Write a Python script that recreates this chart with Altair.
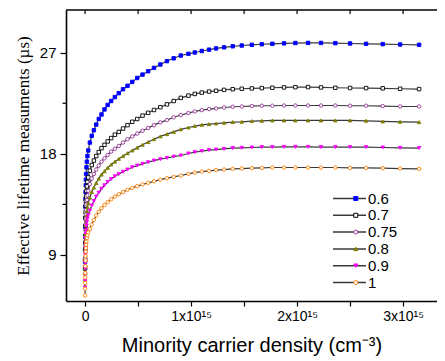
import altair as alt
import pandas as pd

# Minority carrier density (units of 1e15 cm^-3)
X = [0.0, 0.0005, 0.001, 0.0015, 0.002, 0.003, 0.004, 0.005, 0.0065, 0.008, 0.010, 0.013,
     0.017, 0.022, 0.030, 0.045, 0.063, 0.083, 0.105, 0.129, 0.155, 0.183, 0.213, 0.246,
     0.281, 0.318, 0.358, 0.400, 0.445, 0.492, 0.542, 0.595, 0.650, 0.710, 0.772, 0.836,
     0.903, 0.975, 1.035, 1.101, 1.170, 1.236, 1.311, 1.393, 1.478, 1.573, 1.667, 1.767,
     1.877, 1.984, 2.104, 2.226, 2.361, 2.500, 2.651, 2.808, 2.972, 3.151]

S_06 = [8.4, 9.5, 10.6, 11.5, 12.3, 13.3, 14.0, 14.6, 15.2, 15.7, 16.2, 16.8, 17.3, 17.8, 18.3,
        19.0, 19.6, 20.1, 20.6, 21.1, 21.5, 21.95, 22.35, 22.7, 23.05, 23.4, 23.75, 24.05, 24.4,
        24.75, 25.05, 25.35, 25.65, 25.95, 26.25, 26.5,
        26.75, 26.9, 27.02, 27.15, 27.27, 27.38, 27.48, 27.57, 27.64, 27.70, 27.75, 27.79, 27.83,
        27.86, 27.87,
        27.87, 27.85, 27.82, 27.79, 27.76, 27.73, 27.70]
S_07 = [7.8, 8.6, 9.4, 10.1, 10.7, 11.6, 12.3, 12.8, 13.4, 13.8, 14.2, 14.7, 15.1, 15.5, 15.9,
        16.5, 17.0, 17.4, 17.8, 18.15, 18.5, 18.8, 19.1, 19.4, 19.7, 19.95, 20.25, 20.55, 20.85,
        21.1, 21.4, 21.65, 21.9, 22.15, 22.4, 22.7,
        22.98, 23.18, 23.33, 23.45, 23.54, 23.61, 23.69, 23.75, 23.79, 23.82, 23.85, 23.88, 23.91,
        23.93, 23.94,
        23.91, 23.88, 23.86, 23.85, 23.83, 23.79, 23.76]
S_075 = [7.3, 8.0, 8.7, 9.3, 9.8, 10.6, 11.2, 11.7, 12.2, 12.6, 13.0, 13.5, 13.9, 14.3, 14.7,
         15.3, 15.8, 16.2, 16.6, 16.95, 17.3, 17.6, 17.9, 18.2, 18.45, 18.7, 19.0, 19.3, 19.55,
         19.8, 20.05, 20.3, 20.55, 20.8, 21.0, 21.25,
         21.45, 21.63, 21.77, 21.89, 21.98, 22.04, 22.12, 22.19, 22.21, 22.25, 22.28, 22.28, 22.30,
         22.30, 22.30,
         22.30, 22.30, 22.28, 22.28, 22.25, 22.21, 22.21]
S_08 = [6.8, 7.4, 8.0, 8.5, 9.0, 9.7, 10.3, 10.8, 11.3, 11.7, 12.1, 12.5, 12.9, 13.25, 13.6,
        14.1, 14.6, 15.0, 15.4, 15.8, 16.15, 16.45, 16.75, 17.05, 17.3, 17.55, 17.8, 18.05, 18.3,
        18.55, 18.8, 19.05, 19.3, 19.55, 19.75, 19.95,
        20.18, 20.34, 20.47, 20.58, 20.64, 20.70, 20.76, 20.82, 20.85, 20.91, 20.94, 20.97, 20.97,
        20.97, 20.97,
        20.97, 20.97, 20.97, 20.94, 20.88, 20.85, 20.82]
S_09 = [6.1, 6.7, 7.3, 7.8, 8.3, 9.0, 9.6, 10.0, 10.5, 10.9, 11.2, 11.6, 11.95, 12.25, 12.55,
        12.95, 13.4, 13.8, 14.2, 14.55, 14.9, 15.2, 15.5, 15.75, 16.0, 16.2, 16.4, 16.6, 16.8,
        16.95, 17.1, 17.25, 17.4, 17.52, 17.63, 17.75,
        17.85, 18.03, 18.15, 18.24, 18.33, 18.38, 18.44, 18.51, 18.53, 18.56, 18.60, 18.60, 18.62,
        18.62, 18.62,
        18.60, 18.60, 18.60, 18.60, 18.56, 18.53, 18.51]
S_1 = [5.4, 6.0, 6.5, 7.0, 7.4, 8.0, 8.5, 8.9, 9.3, 9.6, 9.9, 10.2, 10.5, 10.75, 11.0,
       11.3, 11.7, 12.1, 12.5, 12.85, 13.15, 13.45, 13.7, 13.95, 14.2, 14.4, 14.6, 14.8, 14.97,
       15.12, 15.27, 15.42, 15.55, 15.7, 15.83, 15.95,
       16.07, 16.22, 16.33, 16.42, 16.48, 16.55, 16.60, 16.66, 16.69, 16.72, 16.75, 16.78, 16.78,
       16.78, 16.78,
       16.78, 16.78, 16.75, 16.75, 16.72, 16.69, 16.66]

LABELS = ["0.6", "0.7", "0.75", "0.8", "0.9", "1"]
SERIES = [S_06, S_07, S_075, S_08, S_09, S_1]
STROKES = ["#0000FF", "#000000", "#993399", "#808000", "#FF00FF", "#FF8000"]
FILLS = ["#0000FF", "#FFFFFF", "#FFFFFF", "#808000", "#FF00FF", "#FFFFFF"]
SHAPES = ["square", "square", "circle", "triangle-up", "triangle-down", "circle"]
X_TICKS = [0, 0.5, 1, 1.5, 2, 2.5, 3]
X_RANGE = [-0.18, 3.32]
Y_MAJOR = [9, 18, 27]
Y_MINOR = [13.5, 22.5]

rows = []
for lab, ys in zip(LABELS, SERIES):
    for xv, yv in zip(X, ys):
        rows.append({"x": xv, "y": yv, "series": lab, "curve": lab})
df = pd.DataFrame(rows)
ticks_df = pd.DataFrame({"t": X_TICKS})
minor_df = pd.DataFrame({"m": Y_MINOR})
frame_df = pd.DataFrame({"x0": [X_RANGE[0]], "x1": [X_RANGE[1]]})

FONT = "Liberation Sans"
xscale = alt.Scale(domain=X_RANGE, nice=False, zero=False)
yscale = alt.Scale(domain=[4.9, 30.8], nice=False, zero=False)

x_axis = alt.Axis(
    values=X_TICKS, orient="bottom", grid=False,
    labelExpr="datum.value == 0 ? '0' : (datum.value % 1 == 0 ? datum.value + 'x10\u00b9\u2075' : '')",
    labelFont=FONT, labelFontSize=14, labelColor="black", labelPadding=3,
    tickSize=5, tickColor="black", tickWidth=1.2,
    domainColor="black", domainWidth=1.6,
    title="Minority carrier density (cm\u207b\u00b3)", titleFont=FONT, titleFontSize=20,
    titleFontWeight="normal", titleColor="black", titlePadding=12,
)
y_axis = alt.Axis(
    values=Y_MAJOR, grid=False, orient="left",
    labelFont=FONT, labelFontSize=15, labelColor="black", labelPadding=4,
    tickSize=6, tickColor="black", tickWidth=1.2,
    domainColor="black", domainWidth=1.6,
    title="Effective lifetime measuments (\u00b5s)", titleFont="Liberation Serif",
    titleFontSize=17, titleFontWeight="normal", titleColor="black", titlePadding=7,
)

LEG_X, LEG_Y = 276, 181

line_legend = alt.Legend(
    orient="none", legendX=LEG_X, legendY=LEG_Y, title=None, padding=0,
    symbolType="M-3.3,0L3.3,0", symbolSize=100, symbolStrokeWidth=1.5,
    labelFont=FONT, labelFontSize=15, labelColor="black", labelOffset=11,
    rowPadding=0.8,
)

def pt_legend():
    return alt.Legend(
        orient="none", legendX=LEG_X + 6.25, legendY=LEG_Y, title=None, padding=0,
        symbolSize=16, symbolStrokeWidth=1, labelExpr="''",
        labelFont=FONT, labelFontSize=15, labelOffset=11, rowPadding=0.8,
    )

lines = alt.Chart(df).mark_line(strokeWidth=1.2).encode(
    x=alt.X("x:Q", scale=xscale, axis=x_axis),
    y=alt.Y("y:Q", scale=yscale, axis=y_axis),
    stroke=alt.Stroke("curve:N", scale=alt.Scale(domain=LABELS, range=["#3a3a3a"] * 6),
                      legend=line_legend),
    order="x:Q",
)

points = alt.Chart(df).mark_point(size=12, strokeWidth=0.9, opacity=1).encode(
    x=alt.X("x:Q", scale=xscale),
    y=alt.Y("y:Q", scale=yscale),
    stroke=alt.Stroke("series:N", scale=alt.Scale(domain=LABELS, range=STROKES), legend=pt_legend()),
    fill=alt.Fill("series:N", scale=alt.Scale(domain=LABELS, range=FILLS), legend=pt_legend()),
    shape=alt.Shape("series:N", scale=alt.Scale(domain=LABELS, range=SHAPES), legend=pt_legend()),
)

top_ticks = alt.Chart(ticks_df).mark_rule(color="black", strokeWidth=1.2).encode(
    x=alt.X("t:Q", scale=xscale),
    y=alt.value(0),
    y2=alt.value(4),
)

top_border = alt.Chart(frame_df).mark_rule(color="black", strokeWidth=1.6).encode(
    x=alt.X("x0:Q", scale=xscale),
    x2="x1:Q",
    y=alt.value(0),
)

minor = alt.Chart(minor_df).mark_rule(color="black", strokeWidth=1.2).encode(
    y=alt.Y("m:Q", scale=yscale),
    x=alt.value(-3.5),
    x2=alt.value(0),
)

chart = alt.layer(lines, points, top_ticks, top_border, minor).resolve_scale(
    stroke="independent", fill="independent", shape="independent"
).resolve_legend(
    stroke="independent", fill="independent", shape="independent"
).properties(
    width=371, height=291,
    autosize=alt.AutoSizeParams(type="none"),
    padding={"left": 58, "top": 2, "right": 0, "bottom": 55},
).configure_view(stroke=None)

chart.save("out.html", embed_options={"renderer": "svg", "actions": False})
